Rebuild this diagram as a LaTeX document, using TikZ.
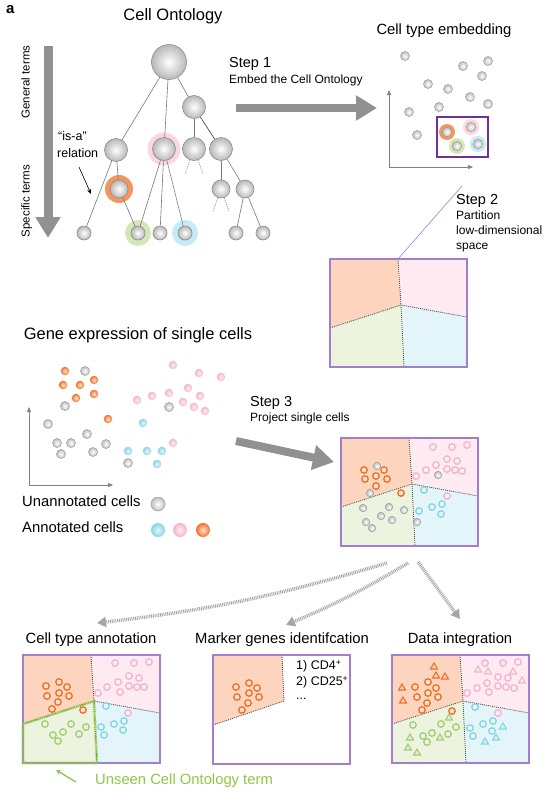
\documentclass[tikz,border=0pt]{standalone}
\usepackage{fontspec}
\setmainfont{Liberation Sans}
\usetikzlibrary{arrows.meta,shapes.geometric}
\definecolor{tline}{RGB}{120,120,120}
\definecolor{bigarrow}{RGB}{145,145,145}
\definecolor{cOr}{RGB}{242,112,38}
\definecolor{cPk}{RGB}{247,178,205}
\definecolor{cBl}{RGB}{135,213,228}
\definecolor{cGr}{RGB}{165,205,115}
\definecolor{hOr}{RGB}{245,150,95}
\definecolor{hPk}{RGB}{251,215,226}
\definecolor{hGr}{RGB}{212,232,182}
\definecolor{hBl}{RGB}{196,236,243}
\definecolor{fOr}{RGB}{253,213,190}
\definecolor{fPk}{RGB}{253,235,241}
\definecolor{fGr}{RGB}{236,243,222}
\definecolor{fBl}{RGB}{227,245,249}
\definecolor{purD}{RGB}{112,48,160}
\definecolor{purL}{RGB}{165,125,205}
\definecolor{unseen}{RGB}{140,200,70}
\newcommand\bigtitle{\fontsize{16.5}{19}\selectfont}
\newcommand\midtitle{\fontsize{14.8}{17}\selectfont}
\newcommand\smalltxt{\fontsize{12}{15}\selectfont}
\tikzset{
  tn/.style={circle, inner sep=0pt, minimum size=#1, draw=black!45, line width=0.6pt,
    shading=radial, inner color=white, outer color=black!28},
  halo/.style={circle, inner sep=0pt, fill=#1},
  sph/.style={circle, inner sep=0pt, minimum size=8.5pt, shading=radial, inner color=#1!20!white, outer color=#1},
  gsph/.style={circle, inner sep=0pt, minimum size=#1, draw=black!40, line width=0.5pt,
    shading=radial, inner color=white, outer color=black!25},
  ring/.style={circle, inner sep=0pt, minimum size=6.5pt, draw=#1, line width=1.3pt, fill=#1!22!white},
  tri/.style={regular polygon, regular polygon sides=3, inner sep=0pt, minimum size=8pt, draw=#1, line width=1.1pt, fill=#1!30!white},
  edge/.style={draw=tline, line width=0.6pt},
  stub/.style={draw=tline, line width=0.6pt, dash pattern=on 1pt off 1.2pt},
  bigarr/.style={draw=bigarrow, line width=8pt, -{Triangle[length=21pt,width=24pt]}},
  darr/.style={draw=black!35, line width=3.5pt, dash pattern=on 0.9pt off 0.9pt, -{Triangle[length=9pt,width=10pt]}},
  axis/.style={draw=black!50, line width=0.7pt, -{Triangle[length=5pt,width=4pt]}},
  divline/.style={draw=black!70, line width=0.8pt, dash pattern=on 1pt off 1pt},
  boxline/.style={draw=purL, line width=1.2pt},
  txt/.style={inner sep=0pt, anchor=mid west},
  partition/.pic={
    \fill[fOr] (0,0) -- (68,0) -- (71,46) -- (0,69) -- cycle;
    \fill[fPk] (68,0) -- (137,0) -- (137,58) -- (71,46) -- cycle;
    \fill[fGr] (0,69) -- (71,46) -- (74,108) -- (0,108) -- cycle;
    \fill[fBl] (71,46) -- (137,58) -- (137,108) -- (74,108) -- cycle;
    \draw[divline] (68,0) -- (71,46) -- (74,108);
    \draw[divline] (0,69) -- (71,46) -- (137,58);
    \draw[boxline] (0,0) rectangle (137,108);
    \coordinate (-top) at (68,0);
  },
  markerbox/.pic={
    \fill[fOr] (0,0) -- (69,0) -- (71,46) -- (0,70) -- cycle;
    \draw[divline] (69,0) -- (71,46) -- (0,70);
    \draw[boxline] (0,0) rectangle (137,109);
  }
}
\begin{document}
\begin{tikzpicture}[x=1pt,y=-1pt]
\useasboundingbox (0,0) rectangle (555,801);
% ---------- labels top ----------
\node[txt, font=\bfseries\fontsize{15}{17}\selectfont] (lbl) at (6,11) {a};
\node[anchor=mid, inner sep=0pt, font=\bigtitle] (t1) at (173,18) {Cell Ontology};
\node[anchor=mid, inner sep=0pt, font=\midtitle] (t2) at (444,32) {Cell type embedding};
\node[txt, font=\fontsize{14.5}{17}\selectfont] (s1) at (229,65) {Step 1};
\node[txt, font=\smalltxt] (s1b) at (229,81) {Embed the Cell Ontology};
% vertical arrow
\coordinate (va) at (48,46); \coordinate (vb) at (48,238);
\draw[bigarr, line width=9pt] (va) -- (vb);
\node[rotate=90, anchor=mid, inner sep=0pt, font=\fontsize{11.5}{14}\selectfont] (gt) at (27,82) {General terms};
\node[rotate=90, anchor=mid, inner sep=0pt, font=\fontsize{11.5}{14}\selectfont] (st) at (27,201) {Specific terms};
\node[txt, font=\fontsize{12.5}{15}\selectfont] (isa) at (58,138) {“is-a”};
\node[txt, font=\fontsize{12.5}{15}\selectfont] (rel) at (57,155) {relation};
\coordinate (ia) at (79,167); \coordinate (ib) at (91,194);
\draw[black, line width=0.6pt, -{Stealth[length=5pt,width=4pt]}] (ia) -- (ib);
% ---------- tree ----------
\node[halo=hPk, minimum size=33pt] (h1) at (164,149) {};
\node[halo=hOr, minimum size=28pt] (h2) at (119,189) {};
\node[halo=hGr, minimum size=26pt] (h3) at (138,233) {};
\node[halo=hBl, minimum size=26pt] (h4) at (185,233) {};
\node[tn=35pt] (root) at (169,62) {};
\node[tn=23pt] (A) at (194,107) {};
\node[tn=23pt] (B1) at (116,150) {};
\node[tn=23pt] (B2) at (164,149) {};
\node[tn=23pt] (B3) at (194,149) {};
\node[tn=23pt] (B4) at (221,149) {};
\node[tn=18pt] (C1) at (119,189) {};
\node[tn=18pt] (C2) at (221,189) {};
\node[tn=18pt] (C3) at (245,189) {};
\node[tn=14pt] (L1) at (84,233) {};
\node[tn=14pt] (L2) at (138,233) {};
\node[tn=14pt] (L3) at (160,233) {};
\node[tn=14pt] (L4) at (185,233) {};
\node[tn=14pt] (L5) at (236,233) {};
\node[tn=14pt] (L6) at (263,233) {};
\draw[edge] (root) -- (B1);
\draw[edge] (root) -- (B2);
\draw[edge] (root) -- (A);
\draw[edge] (A) -- (B3);
\draw[edge, draw=black!80] (A) -- (B4);
\draw[edge] (B1) -- (C1);
\draw[edge] (B1) -- (L1);
\draw[edge] (C1) -- (L2);
\draw[edge] (B2) -- (L2);
\draw[edge] (B2) -- (L3);
\draw[edge] (B2) -- (L4);
\draw[edge] (B4) -- (C2);
\draw[edge] (B4) -- (C3);
\draw[edge] (C3) -- (L5);
\draw[edge] (C3) -- (L6);
\draw[stub] (B3.250) -- ++(-5,14);
\draw[stub] (B3.290) -- ++(5,14);
\draw[stub] (C2.250) -- ++(-5,14);
\draw[stub] (C2.290) -- ++(5,14);
% step 1 arrow
\coordinate (a1s) at (236,108); \coordinate (a1e) at (377,108);
\draw[bigarr] (a1s) -- (a1e);
% ---------- embedding ----------
\coordinate (eo) at (389,167); \coordinate (ey) at (389,90); \coordinate (ex) at (473,167);
\draw[axis] (eo) -- (ey);
\draw[axis] (eo) -- (ex);
\foreach \p [count=\i] in {(405,56),(463,66),(488,61),(482,76),(428,84),(448,89),(470,97),(488,104),(409,112),(439,107),(417,135)}
  \node[gsph=9pt] (e\i) at \p {};
\node[halo=hOr, minimum size=16pt] (eh1) at (447,132) {};
\node[halo=hPk, minimum size=16pt] (eh2) at (471,127) {};
\node[halo=hGr, minimum size=16pt] (eh3) at (457,146) {};
\node[halo=hBl, minimum size=16pt] (eh4) at (478,144) {};
\node[gsph=9.5pt] (ec1) at (447,132) {};
\node[gsph=9.5pt] (ec2) at (471,127) {};
\node[gsph=9.5pt] (ec3) at (457,146) {};
\node[gsph=9.5pt] (ec4) at (478,144) {};
\node[draw=purD, line width=1.1pt, inner sep=0pt, minimum width=51pt, minimum height=40pt] (ebox) at (462.5,137) {};
% ---------- step 2 ----------
\pic (pb) at (330,259) {partition};
\coordinate (s2a) at (462,186);
\draw[draw=purL, line width=0.6pt] (s2a) -- (pb-top);
\node[txt, font=\fontsize{14.5}{17}\selectfont] (s2) at (456,202) {Step 2};
\node[txt, font=\smalltxt] (s2b) at (456,217) {Partition};
\node[txt, font=\smalltxt] (s2c) at (456,232) {low-dimensional};
\node[txt, font=\smalltxt] (s2d) at (456,247) {space};
% ---------- gene expression ----------
\node[anchor=mid, inner sep=0pt, font=\bigtitle] (t3) at (138,337) {Gene expression of single cells};
\coordinate (go) at (29,485); \coordinate (gy) at (29,407); \coordinate (gx) at (113,485);
\draw[axis] (go) -- (gy);
\draw[axis] (go) -- (gx);
\foreach \p [count=\i] in {(65,371),(63,385),(80,385),(94,380),(94,394),(76,398),(108,419)}
  \node[sph=cOr] (go\i) at \p {};
\foreach \p [count=\i] in {(85,371),(65,406),(48,424),(87,434),(57,443),(71,443),(61,454),(93,452),(106,444),(128,463),(169,407)}
  \node[gsph=9pt] (gg\i) at \p {};
\foreach \p [count=\i] in {(173,365),(199,373),(221,377),(137,400),(152,396),(169,393),(188,388),(200,396),(183,402),(194,407),(205,411),(173,443)}
  \node[sph=cPk] (gp\i) at \p {};
\foreach \p [count=\i] in {(143,423),(128,451),(147,451),(162,451),(157,464)}
  \node[sph=cBl] (gb\i) at \p {};
\node[txt, font=\midtitle] (lg1) at (22,504) {Unannotated cells};
\node[gsph=14pt] (lgd1) at (158,504) {};
\node[txt, font=\midtitle] (lg2) at (22,530) {Annotated cells};
\node[sph=cBl, minimum size=14pt] (lgd2) at (158,530) {};
\node[sph=cPk, minimum size=14pt] (lgd3) at (180,530) {};
\node[sph=cOr, minimum size=14pt] (lgd4) at (203,530) {};
% ---------- step 3 ----------
\node[txt, font=\fontsize{14.5}{17}\selectfont] (s3) at (250,404) {Step 3};
\node[txt, font=\smalltxt] (s3b) at (250,419) {Project single cells};
\coordinate (a3s) at (236,441); \coordinate (a3e) at (334,462);
\draw[bigarr] (a3s) -- (a3e);
\pic (pj) at (341,438) {partition};
\foreach \p [count=\i] in {(364,470),(384,470),(376,476),(365,479),(387,479),(376,486),(401,493)}
  \node[ring=cOr] (po\i) at \p {};
\foreach \p [count=\i] in {(377,466),(370,493),(363,508),(389,507),(404,510),(381,516),(366,522),(392,520),(372,528),(438,475),(417,522)}
  \node[gsph=7.5pt] (pg\i) at \p {};
\foreach \p [count=\i] in {(433,447),(452,447),(467,445),(447,459),(457,461),(436,465),(426,470),(447,469),(455,470),(462,471),(416,476),(447,496)}
  \node[ring=cPk] (pp\i) at \p {};
\foreach \p [count=\i] in {(424,490),(419,511),(432,507),(442,504),(441,514)}
  \node[ring=cBl] (pb\i) at \p {};
% dotted arrows
\coordinate (d1s) at (387,563); \coordinate (d1e) at (97,623);
\coordinate (d2s) at (408,563); \coordinate (d2e) at (286,625);
\coordinate (d3s) at (418,562); \coordinate (d3e) at (460,619);
\draw[darr] (d1s) to[bend left=5] (d1e);
\draw[darr] (d2s) to[bend left=4] (d2e);
\draw[darr] (d3s) -- (d3e);
% ---------- bottom ----------
\node[anchor=mid, inner sep=0pt, font=\midtitle] (t4) at (91,641) {Cell type annotation};
\node[anchor=mid, inner sep=0pt, font=\midtitle] (t5) at (282,641) {Marker genes identifcation};
\node[anchor=mid, inner sep=0pt, font=\midtitle] (t6) at (460,641) {Data integration};
% annotation
\pic (an) at (23,655) {partition};
\draw[draw=unseen, line width=2.6pt, dash pattern=on 1pt off 0.8pt] (23,724) -- (94,701) -- (97,763) -- (23,763) -- cycle;
\foreach \p [count=\i] in {(46,686),(59,682),(67,687),(47,696),(59,693),(69,696),(58,702),(52,709),(83,710)}
  \node[ring=cOr] (ao\i) at \p {};
\foreach \p [count=\i] in {(115,663),(134,663),(149,662),(129,676),(139,678),(107,687),(118,682),(129,686),(137,687),(144,687),(120,692),(98,693),(128,713)}
  \node[ring=cPk] (ap\i) at \p {};
\foreach \p [count=\i] in {(106,706),(101,727),(114,724),(124,721),(123,730),(104,735)}
  \node[ring=cBl] (ab\i) at \p {};
\foreach \p [count=\i] in {(45,724),(71,724),(86,727),(63,732),(53,735),(79,734),(58,741)}
  \node[ring=cGr] (ag\i) at \p {};
\coordinate (ua) at (76,782); \coordinate (ub) at (56,770);
\draw[draw=unseen, line width=1.3pt, -{Stealth[length=5pt,width=5pt]}] (ua) -- (ub);
\node[txt, font=\midtitle, text=unseen] (un) at (95,782) {Unseen Cell Ontology term};
% marker
\pic (mk) at (213,655) {markerbox};
\foreach \p [count=\i] in {(236,687),(249,683),(257,688),(237,697),(249,693),(259,697),(248,703),(242,710)}
  \node[ring=cOr] (mo\i) at \p {};
\node[txt, font=\fontsize{12.5}{15}\selectfont] (m1) at (296,667) {1) CD4\textsuperscript{+}};
\node[txt, font=\fontsize{12.5}{15}\selectfont] (m2) at (296,683) {2) CD25\textsuperscript{+}};
\node[txt, font=\fontsize{12.5}{15}\selectfont] (m3) at (296,697) {...};
% data integration
\pic (di) at (392,655) {partition};
\foreach \p [count=\i] in {(415,687),(428,682),(436,688),(417,697),(428,693),(438,697),(427,703),(422,710),(452,711)}
  \node[ring=cOr] (do\i) at \p {};
\foreach \p [count=\i] in {(434,667),(436,676),(445,677),(402,688),(403,701)}
  \node[tri=cOr] (dot\i) at \p {};
\foreach \p [count=\i] in {(485,663),(503,663),(518,662),(498,677),(508,678),(487,683),(477,688),(498,686),(506,687),(514,688),(489,692),(467,693),(498,713)}
  \node[ring=cPk] (dp\i) at \p {};
\foreach \p [count=\i] in {(478,670),(488,672),(513,672),(522,681)}
  \node[tri=cPk] (dpt\i) at \p {};
\foreach \p [count=\i] in {(475,707),(470,728),(483,724),(493,721),(492,731),(473,736)}
  \node[ring=cBl] (db\i) at \p {};
\foreach \p [count=\i] in {(503,727),(496,738),(485,742)}
  \node[tri=cBl] (dbt\i) at \p {};
\foreach \p [count=\i] in {(413,725),(441,724),(456,727),(432,733),(423,736),(448,734),(427,742)}
  \node[ring=cGr] (dg\i) at \p {};
\foreach \p [count=\i] in {(449,718),(410,738),(440,738),(408,748),(417,753)}
  \node[tri=cGr] (dgt\i) at \p {};
\end{tikzpicture}
\end{document}
